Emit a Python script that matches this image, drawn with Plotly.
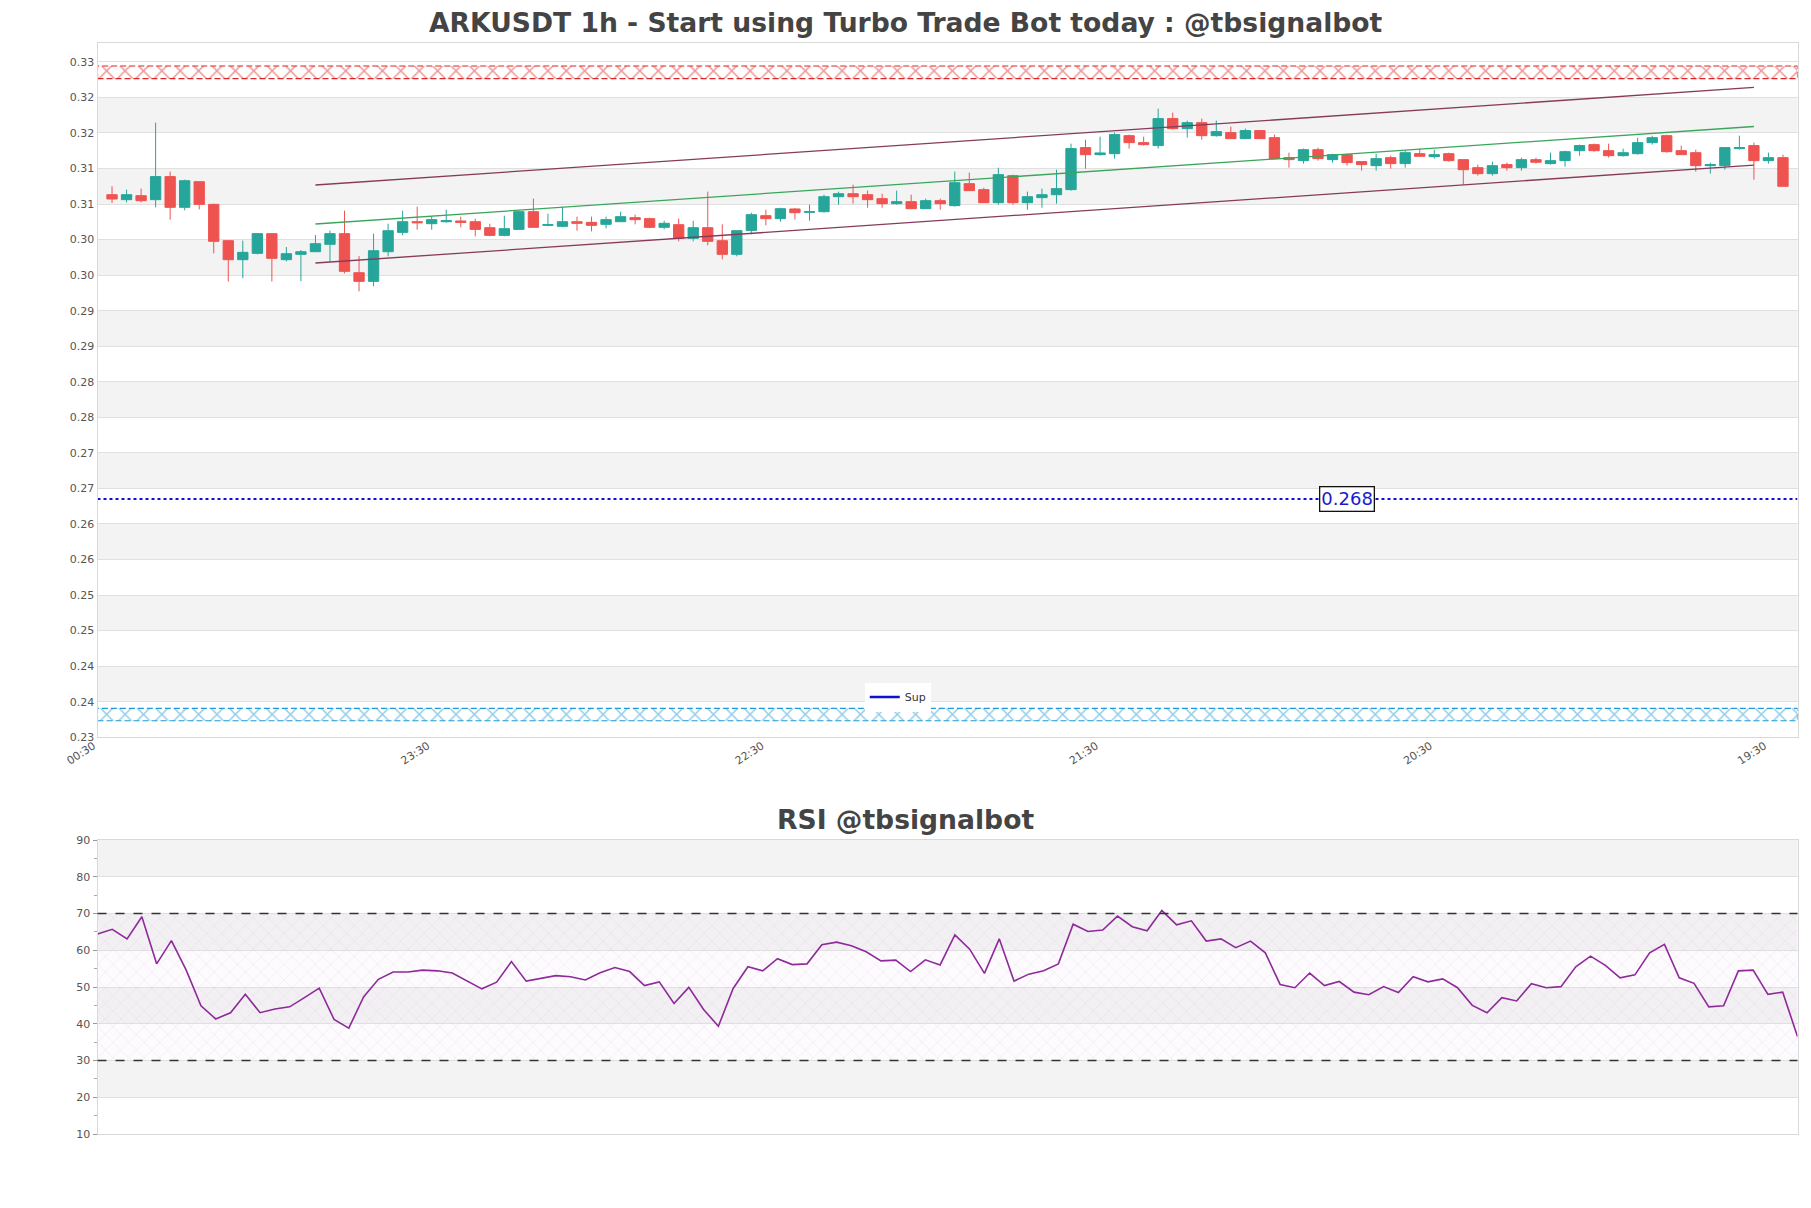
import pandas as pd
import plotly.graph_objects as go

# ---------------- data ----------------
times = pd.date_range("2024-01-01 01:30", periods=116, freq="h")

opens = [0.31131, 0.31061, 0.31117, 0.31061, 0.31385, 0.30953, 0.31314, 0.30995, 0.30484, 0.30217,
         0.30306, 0.30583, 0.30217, 0.30292, 0.30329, 0.30433, 0.30583, 0.30034, 0.29912, 0.30329,
         0.30601, 0.30751, 0.30723, 0.30751, 0.30761, 0.30751, 0.30667, 0.30559, 0.30643, 0.30892,
         0.30700, 0.30686, 0.30751, 0.30742, 0.30714, 0.30751, 0.30808, 0.30794, 0.30672, 0.30709,
         0.30517, 0.30667, 0.30484, 0.30292, 0.30629, 0.30836, 0.30794, 0.30930, 0.30883, 0.30892,
         0.31103, 0.31145, 0.31131, 0.31075, 0.31005, 0.31033, 0.30934, 0.31047, 0.30977, 0.31286,
         0.31202, 0.31019, 0.31399, 0.31019, 0.31089, 0.31131, 0.31202, 0.31793, 0.31694, 0.31708,
         0.31961, 0.31863, 0.31821, 0.32201, 0.32060, 0.32144, 0.31961, 0.32004, 0.31919, 0.32032,
         0.31933, 0.31652, 0.31610, 0.31764, 0.31624, 0.31694, 0.31596, 0.31539, 0.31652, 0.31568,
         0.31708, 0.31666, 0.31708, 0.31624, 0.31511, 0.31427, 0.31554, 0.31511, 0.31624, 0.31568,
         0.31610, 0.31750, 0.31835, 0.31750, 0.31680, 0.31708, 0.31863, 0.31961, 0.31750, 0.31722,
         0.31539, 0.31539, 0.31779, 0.31821, 0.31610, 0.31652]
highs = [0.31249, 0.31202, 0.31216, 0.32144, 0.31455, 0.31342, 0.31314, 0.31005, 0.30493, 0.30484,
         0.30592, 0.30583, 0.30395, 0.30353, 0.30564, 0.30625, 0.30906, 0.30268, 0.30583, 0.30723,
         0.30906, 0.30962, 0.30826, 0.30920, 0.30822, 0.30794, 0.30723, 0.30836, 0.30906, 0.31075,
         0.30864, 0.30962, 0.30822, 0.30822, 0.30822, 0.30892, 0.30850, 0.30808, 0.30765, 0.30794,
         0.30765, 0.31174, 0.30714, 0.30625, 0.30878, 0.30920, 0.30948, 0.30944, 0.30991, 0.31131,
         0.31174, 0.31272, 0.31188, 0.31145, 0.31188, 0.31131, 0.31075, 0.31075, 0.31455, 0.31441,
         0.31230, 0.31511, 0.31413, 0.31174, 0.31216, 0.31483, 0.31849, 0.31905, 0.31947, 0.32004,
         0.31976, 0.31947, 0.32341, 0.32285, 0.32173, 0.32201, 0.32173, 0.32088, 0.32060, 0.32032,
         0.31976, 0.31722, 0.31779, 0.31793, 0.31708, 0.31708, 0.31596, 0.31708, 0.31680, 0.31750,
         0.31779, 0.31764, 0.31722, 0.31624, 0.31554, 0.31596, 0.31582, 0.31652, 0.31652, 0.31722,
         0.31750, 0.31835, 0.31849, 0.31849, 0.31779, 0.31933, 0.31961, 0.31976, 0.31821, 0.31764,
         0.31582, 0.31793, 0.31961, 0.31863, 0.31722, 0.31694]
lows = [0.31014, 0.31023, 0.31023, 0.30953, 0.30780, 0.30911, 0.30925, 0.30306, 0.29910, 0.29957,
        0.30292, 0.29910, 0.30193, 0.29914, 0.30329, 0.30184, 0.30024, 0.29771, 0.29842, 0.30264,
        0.30559, 0.30639, 0.30639, 0.30737, 0.30672, 0.30545, 0.30545, 0.30545, 0.30643, 0.30672,
        0.30686, 0.30672, 0.30625, 0.30615, 0.30658, 0.30751, 0.30714, 0.30658, 0.30644, 0.30475,
        0.30475, 0.30418, 0.30221, 0.30264, 0.30573, 0.30700, 0.30751, 0.30780, 0.30765, 0.30878,
        0.30991, 0.31005, 0.30948, 0.30948, 0.30991, 0.30934, 0.30934, 0.30920, 0.30962, 0.31188,
        0.31019, 0.30991, 0.30991, 0.30920, 0.30948, 0.31005, 0.31188, 0.31497, 0.31680, 0.31638,
        0.31779, 0.31821, 0.31779, 0.32046, 0.31933, 0.31905, 0.31947, 0.31919, 0.31919, 0.31919,
        0.31638, 0.31511, 0.31568, 0.31610, 0.31582, 0.31539, 0.31469, 0.31469, 0.31497, 0.31511,
        0.31666, 0.31638, 0.31596, 0.31272, 0.31399, 0.31399, 0.31469, 0.31469, 0.31568, 0.31554,
        0.31525, 0.31680, 0.31736, 0.31652, 0.31666, 0.31694, 0.31835, 0.31722, 0.31694, 0.31455,
        0.31427, 0.31483, 0.31764, 0.31342, 0.31568, 0.31249]
closes = [0.31070, 0.31131, 0.31047, 0.31385, 0.30953, 0.31328, 0.30995, 0.30475, 0.30217, 0.30320,
          0.30583, 0.30236, 0.30301, 0.30329, 0.30442, 0.30583, 0.30053, 0.29912, 0.30343, 0.30625,
          0.30751, 0.30737, 0.30780, 0.30765, 0.30742, 0.30643, 0.30559, 0.30653, 0.30892, 0.30672,
          0.30709, 0.30751, 0.30728, 0.30700, 0.30780, 0.30822, 0.30780, 0.30672, 0.30728, 0.30517,
          0.30667, 0.30475, 0.30292, 0.30625, 0.30850, 0.30794, 0.30934, 0.30878, 0.30892, 0.31103,
          0.31145, 0.31103, 0.31061, 0.31005, 0.31033, 0.30934, 0.31047, 0.31005, 0.31300, 0.31188,
          0.31019, 0.31413, 0.31019, 0.31103, 0.31131, 0.31216, 0.31779, 0.31694, 0.31718, 0.31976,
          0.31863, 0.31835, 0.32201, 0.32060, 0.32144, 0.31961, 0.32018, 0.31919, 0.32032, 0.31919,
          0.31638, 0.31624, 0.31764, 0.31638, 0.31694, 0.31582, 0.31554, 0.31638, 0.31568, 0.31722,
          0.31671, 0.31694, 0.31610, 0.31483, 0.31427, 0.31539, 0.31511, 0.31624, 0.31587, 0.31610,
          0.31736, 0.31821, 0.31750, 0.31680, 0.31722, 0.31863, 0.31933, 0.31736, 0.31694, 0.31539,
          0.31554, 0.31793, 0.31793, 0.31610, 0.31652, 0.31249]

rsi = [64.4, 65.7, 63.1, 69.1, 56.3, 62.6, 54.6, 44.9, 41.3, 43.0,
       48.0, 43.0, 44.0, 44.6, 47.1, 49.7, 41.2, 38.8, 47.3, 52.1,
       54.1, 54.1, 54.6, 54.4, 53.8, 51.7, 49.5, 51.3, 56.9, 51.6,
       52.4, 53.1, 52.8, 51.9, 53.9, 55.3, 54.2, 50.4, 51.4, 45.5,
       49.9, 43.9, 39.3, 49.6, 55.5, 54.4, 57.7, 56.1, 56.3, 61.5,
       62.2, 61.2, 59.6, 57.1, 57.3, 54.2, 57.4, 56.0, 64.2, 60.3,
       53.7, 63.1, 51.6, 53.5, 54.4, 56.3, 67.1, 65.1, 65.5, 69.3,
       66.4, 65.3, 70.8, 66.9, 68.0, 62.5, 63.1, 60.7, 62.5, 59.3,
       50.7, 49.8, 53.8, 50.4, 51.5, 48.6, 47.9, 50.1, 48.5, 52.8,
       51.4, 52.2, 49.8, 45.0, 43.0, 47.1, 46.2, 50.9, 49.8, 50.1,
       55.5, 58.4, 55.9, 52.5, 53.3, 59.3, 61.6, 52.5, 51.0, 44.6,
       44.9, 54.4, 54.6, 48.0, 48.6, 36.5]

channel_idx = [14, 113]             # candles where the channel starts / ends
channel_upper = [0.31267, 0.32640]
channel_mid = [0.30719, 0.32090]
channel_lower = [0.30170, 0.31547]

resistance_band = [0.32762, 0.32941]
support_band = [0.23733, 0.23907]
support_level = 0.2685
support_label = "0.268"

y_tickvals = [0.235, 0.24, 0.245, 0.25, 0.255, 0.26, 0.265, 0.27, 0.275, 0.28,
              0.285, 0.29, 0.295, 0.30, 0.305, 0.31, 0.315, 0.32, 0.325, 0.33]
y_ticktext = ["0.23", "0.24", "0.24", "0.25", "0.25", "0.26", "0.26", "0.27", "0.27", "0.28",
              "0.28", "0.29", "0.29", "0.30", "0.30", "0.31", "0.31", "0.32", "0.32", "0.33"]
x_ticktext = ["00:30", "23:30", "22:30", "21:30", "20:30", "19:30"]

title_main = "ARKUSDT 1h - Start using Turbo Trade Bot today : @tbsignalbot"
title_rsi = "RSI @tbsignalbot"

# ---------------- figure ----------------
W, H = 1811, 1208
FONT = "DejaVu Sans"
UP, DOWN = "#26a69a", "#ef5350"
SUP_BLUE = "#1010d0"

hour = pd.Timedelta(hours=1)
x_start = times[0] - hour
x_end = times[-1] + hour
x_tickvals = [x_start + 23 * hour * k for k in range(len(x_ticktext))]

fig = go.Figure()

band_x = [x_start, x_end, x_end, x_start, x_start]


def band(lo, hi, color):
    return go.Scatter(
        x=band_x, y=[lo, lo, hi, hi, lo], mode="lines", fill="toself",
        fillcolor="rgba(255,255,255,0)",
        fillpattern=dict(shape="x", fgcolor=color, bgcolor="rgba(255,255,255,0)",
                         size=13, solidity=0.22),
        line=dict(color=color, width=1.2, dash="6px,3px"),
        hoverinfo="skip", showlegend=False, xaxis="x", yaxis="y")


fig.add_trace(band(resistance_band[0], resistance_band[1], "#dc2626"))
fig.add_trace(band(support_band[0], support_band[1], "#1f9ad6"))

fig.add_trace(go.Candlestick(
    x=times, open=opens, high=highs, low=lows, close=closes,
    increasing=dict(line=dict(color=UP, width=1), fillcolor=UP),
    decreasing=dict(line=dict(color=DOWN, width=1), fillcolor=DOWN),
    whiskerwidth=0, showlegend=False, hoverinfo="skip", xaxis="x", yaxis="y"))

cx = [times[channel_idx[0]], times[channel_idx[1]]]
fig.add_trace(go.Scatter(x=cx, y=channel_upper, mode="lines",
                         line=dict(color="#873a5a", width=1.3), showlegend=False, hoverinfo="skip"))
fig.add_trace(go.Scatter(x=cx, y=channel_mid, mode="lines",
                         line=dict(color="#3aa65a", width=1.3), showlegend=False, hoverinfo="skip"))
fig.add_trace(go.Scatter(x=cx, y=channel_lower, mode="lines",
                         line=dict(color="#873a5a", width=1.3), showlegend=False, hoverinfo="skip"))

fig.add_trace(go.Scatter(x=[x_start, x_end], y=[support_level, support_level], mode="lines",
                         name="Sup", legendgroup="sup",
                         line=dict(color=SUP_BLUE, width=2, dash="dot"),
                         hoverinfo="skip", showlegend=False))
# legend entry for the support line (solid swatch as in the original legend)
fig.add_trace(go.Scatter(x=[None], y=[None], mode="lines", name="Sup", legendgroup="sup",
                         line=dict(color=SUP_BLUE, width=2.5), hoverinfo="skip", showlegend=True))

# RSI
fig.add_trace(go.Scatter(
    x=[times[0], times[-1], times[-1], times[0], times[0]], y=[30, 30, 70, 70, 30],
    mode="lines", fill="toself", fillcolor="rgba(235,215,240,0.1)",
    fillpattern=dict(shape="x", fgcolor="rgba(190,160,205,0.5)", bgcolor="rgba(235,215,240,0.1)",
                     size=11, solidity=0.1),
    line=dict(width=0), hoverinfo="skip", showlegend=False, xaxis="x2", yaxis="y2"))
fig.add_trace(go.Scatter(x=times, y=rsi, mode="lines", line=dict(color="#8e2a9a", width=1.6),
                         hoverinfo="skip", showlegend=False, xaxis="x2", yaxis="y2"))

shapes = []
for k in range(1, 19, 2):
    lo = y_tickvals[k]
    hi = y_tickvals[k + 1]
    shapes.append(dict(type="rect", xref="x domain", yref="y", x0=0, x1=1, y0=lo, y1=hi,
                       fillcolor="#f3f3f3", line=dict(width=0), layer="below"))
for lo in [20, 40, 60, 80]:
    shapes.append(dict(type="rect", xref="x2 domain", yref="y2", x0=0, x1=1, y0=lo, y1=lo + 10,
                       fillcolor="#f3f3f3", line=dict(width=0), layer="below"))
for lvl in [30, 70]:
    shapes.append(dict(type="line", xref="x2 domain", yref="y2", x0=0, x1=1, y0=lvl, y1=lvl,
                       line=dict(color="#333333", width=1.3, dash="dash"), layer="above"))

annotations = [
    dict(text="<b>%s</b>" % title_main, xref="paper", yref="paper", x=0.5, y=1 - 22 / H,
         xanchor="center", yanchor="middle", showarrow=False,
         font=dict(family=FONT, size=26.6, color="#444444")),
    dict(text="<b>%s</b>" % title_rsi, xref="paper", yref="paper", x=0.5, y=1 - 819 / H,
         xanchor="center", yanchor="middle", showarrow=False,
         font=dict(family=FONT, size=26.6, color="#444444")),
    dict(text=support_label, xref="paper", yref="y", x=1347 / W, y=support_level,
         xanchor="center", yanchor="middle", showarrow=False,
         font=dict(family=FONT, size=18, color="#1a1acc"),
         bgcolor="white", bordercolor="#111111", borderwidth=1.3, borderpad=1),
]

axis_common = dict(showline=True, linecolor="#d9d9d9", mirror=True, zeroline=False,
                   automargin=False)

fig.update_layout(
    width=W, height=H, autosize=False,
    margin=dict(l=0, r=0, t=0, b=0),
    paper_bgcolor="white", plot_bgcolor="white",
    font=dict(family=FONT, size=11, color="#555555"),
    boxgap=0.29, boxgroupgap=0,
    hovermode=False,
    shapes=shapes, annotations=annotations,
    legend=dict(x=0.4775, y=1 - 697 / H, xanchor="left", yanchor="middle",
                bgcolor="white", font=dict(family=FONT, size=11, color="#333333"),
                itemwidth=30, borderwidth=0),
    xaxis=dict(domain=[97.5 / W, 1797.5 / W], anchor="y", type="date",
               range=[x_start, x_end], tickvals=x_tickvals, ticktext=x_ticktext,
               tickangle=-33, showgrid=False, rangeslider=dict(visible=False),
               ticklabelshift=-4, ticklabelstandoff=-3,
               tickfont=dict(size=11, color="#555555"), **axis_common),
    yaxis=dict(domain=[1 - 737.3 / H, 1 - 43.3 / H], anchor="x",
               range=[0.235, 0.3326], tickvals=y_tickvals, ticktext=y_ticktext,
               showgrid=True, gridcolor="#e0e0e0", gridwidth=1,
               tickfont=dict(size=11, color="#555555"), **axis_common),
    xaxis2=dict(domain=[97.5 / W, 1797.5 / W], anchor="y2", type="date",
                range=[times[0], times[-1]], showticklabels=False, showgrid=False,
                **axis_common),
    yaxis2=dict(domain=[1 - 1134 / H, 1 - 840 / H], anchor="x2",
                range=[10, 90], tickvals=[10, 20, 30, 40, 50, 60, 70, 80, 90],
                showgrid=True, gridcolor="#e0e0e0",
                ticks="outside", ticklen=4, tickcolor="#999999",
                minor=dict(dtick=5, ticks="outside", ticklen=3, tickcolor="#aaaaaa", showgrid=False),
                tickfont=dict(size=11, color="#555555"), **axis_common),
)

fig.write_html("out.html")
